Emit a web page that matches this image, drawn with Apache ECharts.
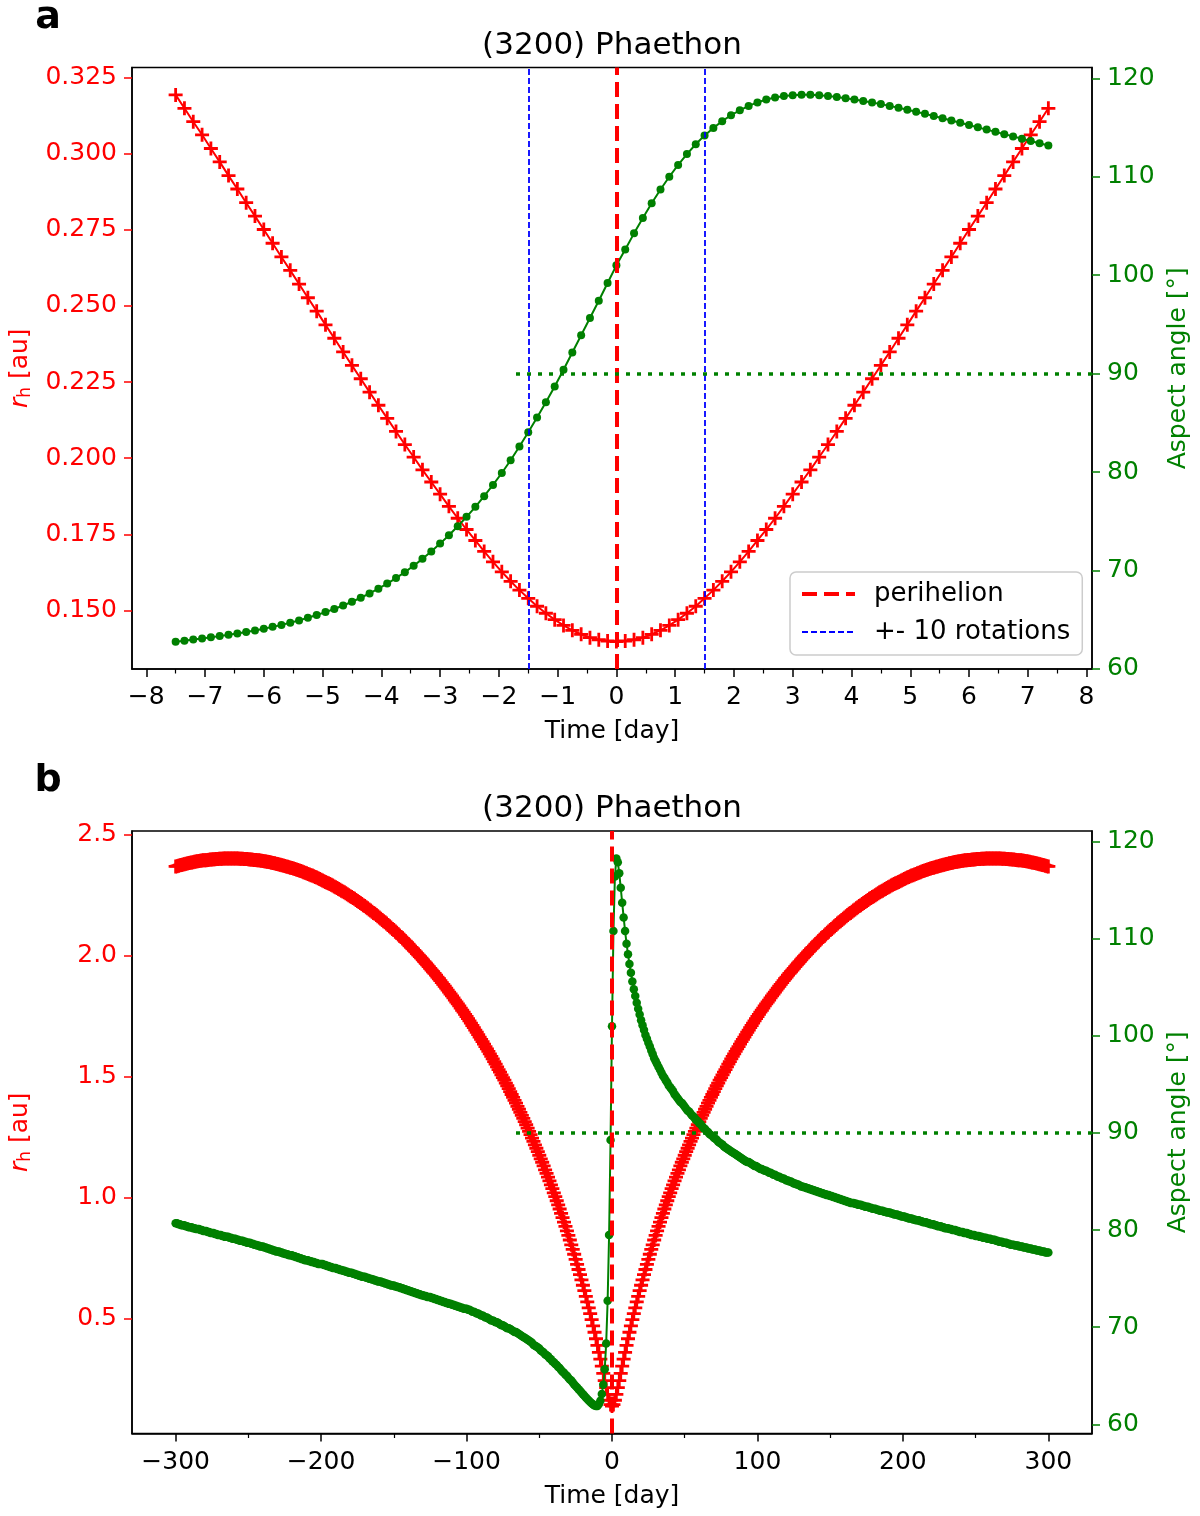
<!DOCTYPE html>
<html><head><meta charset="utf-8">
<script src="https://cdn.jsdelivr.net/npm/echarts@6/dist/echarts.min.js"></script>
<style>html,body{margin:0;padding:0;background:#fff}#c{width:1200px;height:1516px}</style>
</head><body><div id="c"></div>
<script>
// ---------- Panel a: +-7.5 days, one sample per rotation (0.15 day) ----------
const timeA = [-7.5,-7.35,-7.2,-7.05,-6.9,-6.75,-6.6,-6.45,-6.3,-6.15,-6,-5.85,-5.7,-5.55,-5.4,-5.25,-5.1,-4.95,-4.8,-4.65,-4.5,-4.35,-4.2,-4.05,-3.9,-3.75,-3.6,-3.45,-3.3,-3.15,-3,-2.85,-2.7,-2.55,-2.4,-2.25,-2.1,-1.95,-1.8,-1.65,-1.5,-1.35,-1.2,-1.05,-0.9,-0.75,-0.6,-0.45,-0.3,-0.15,0,0.15,0.3,0.45,0.6,0.75,0.9,1.05,1.2,1.35,1.5,1.65,1.8,1.95,2.1,2.25,2.4,2.55,2.7,2.85,3,3.15,3.3,3.45,3.6,3.75,3.9,4.05,4.2,4.35,4.5,4.65,4.8,4.95,5.1,5.25,5.4,5.55,5.7,5.85,6,6.15,6.3,6.45,6.6,6.75,6.9,7.05,7.2,7.35];
const rhA = [0.3193,0.3149,0.3105,0.3062,0.3017,0.2973,0.2928,0.2884,0.2839,0.2795,0.2751,0.2706,0.2661,0.2617,0.2572,0.2527,0.2483,0.2438,0.2394,0.2349,0.2305,0.2261,0.2217,0.2174,0.2131,0.2088,0.2045,0.2004,0.1962,0.1922,0.1882,0.1842,0.1803,0.1766,0.1730,0.1694,0.1660,0.1627,0.1596,0.1567,0.1540,0.1514,0.1491,0.1470,0.1451,0.1435,0.1422,0.1411,0.1404,0.1400,0.1398,
0.1400,0.1404,0.1411,0.1422,0.1435,0.1451,0.1470,0.1491,0.1514,0.1540,0.1567,0.1596,0.1627,0.1660,0.1694,0.1730,0.1766,0.1803,0.1842,0.1882,0.1922,0.1962,0.2004,0.2045,0.2088,0.2131,0.2174,0.2217,0.2261,0.2305,0.2349,0.2394,0.2438,0.2483,0.2527,0.2572,0.2617,0.2661,0.2706,0.2751,0.2795,0.2839,0.2884,0.2928,0.2973,0.3017,0.3062,0.3105,0.3149];
const aspectA = [62.77,62.87,62.98,63.09,63.21,63.33,63.46,63.6,63.75,63.91,
64.08,64.27,64.47,64.69,64.93,65.19,65.47,65.77,66.09,66.44,
66.82,67.23,67.67,68.15,68.67,69.23,69.83,70.48,71.18,71.93,
72.73,73.58,74.49,75.45,76.47,77.55,78.69,79.9,81.2,82.6,
84.05,85.55,87.1,88.7,90.4,92.15,93.9,95.65,97.4,99.2,
101.0,102.6,104.25,105.8,107.3,108.7,110.0,111.2,112.3,113.3,
114.2,114.95,115.65,116.25,116.75,117.2,117.55,117.85,118.05,118.2,
118.28,118.32,118.32,118.28,118.2,118.1,117.98,117.85,117.7,117.55,
117.38,117.2,117.01,116.81,116.6,116.39,116.17,115.95,115.72,115.49,
115.25,115.02,114.79,114.56,114.33,114.1,113.87,113.64,113.41,113.18];

// ---------- Panel b: one sample per day from DAY_START to DAY_END ----------
const DAY_START = -300, DAY_END = 300;
const rhB = [2.369,2.370,2.372,2.374,2.375,2.377,2.378,2.380,2.381,2.383,
2.384,2.385,2.386,2.388,2.389,2.390,2.391,2.392,2.393,2.394,
2.395,2.395,2.396,2.397,2.398,2.398,2.399,2.399,2.400,2.400,
2.401,2.401,2.401,2.402,2.402,2.402,2.402,2.402,2.402,2.402,
2.402,2.402,2.402,2.402,2.401,2.401,2.401,2.400,2.400,2.400,
2.399,2.398,2.398,2.397,2.396,2.396,2.395,2.394,2.393,2.392,
2.391,2.390,2.389,2.388,2.387,2.386,2.384,2.383,2.382,2.380,
2.379,2.377,2.376,2.374,2.373,2.371,2.369,2.368,2.366,2.364,
2.362,2.360,2.358,2.356,2.354,2.352,2.350,2.348,2.345,2.343,
2.341,2.338,2.336,2.333,2.331,2.328,2.325,2.323,2.320,2.317,
2.314,2.311,2.308,2.305,2.302,2.299,2.296,2.293,2.290,2.286,
2.283,2.280,2.276,2.273,2.269,2.265,2.262,2.258,2.254,2.250,
2.246,2.243,2.239,2.235,2.230,2.226,2.222,2.218,2.214,2.209,
2.205,2.200,2.196,2.191,2.187,2.182,2.177,2.173,2.168,2.163,
2.158,2.153,2.148,2.143,2.138,2.133,2.127,2.122,2.117,2.111,
2.106,2.100,2.095,2.089,2.083,2.077,2.072,2.066,2.060,2.054,
2.048,2.041,2.035,2.029,2.022,2.016,2.009,2.003,1.996,1.990,
1.983,1.976,1.969,1.962,1.955,1.948,1.941,1.934,1.927,1.920,
1.912,1.905,1.897,1.889,1.882,1.874,1.866,1.858,1.850,1.842,
1.834,1.826,1.817,1.809,1.801,1.793,1.784,1.775,1.767,1.758,
1.749,1.740,1.731,1.722,1.712,1.703,1.693,1.684,1.674,1.664,
1.655,1.645,1.635,1.625,1.615,1.605,1.595,1.584,1.574,1.563,
1.552,1.541,1.530,1.519,1.508,1.497,1.486,1.474,1.463,1.451,
1.439,1.427,1.415,1.403,1.391,1.378,1.366,1.353,1.341,1.328,
1.315,1.302,1.288,1.275,1.261,1.247,1.233,1.219,1.205,1.191,
1.176,1.161,1.147,1.132,1.116,1.101,1.086,1.070,1.054,1.038,
1.021,1.005,0.988,0.971,0.954,0.936,0.918,0.900,0.882,0.864,
0.845,0.826,0.806,0.787,0.767,0.746,0.725,0.704,0.683,0.661,
0.639,0.617,0.593,0.570,0.546,0.522,0.497,0.471,0.445,0.418,
0.391,0.362,0.334,0.305,0.275,0.245,0.216,0.188,0.164,0.146,
0.140,
0.146,0.164,0.188,0.216,0.245,0.275,0.305,0.334,0.362,0.391,
0.418,0.445,0.471,0.497,0.522,0.546,0.570,0.593,0.617,0.639,
0.661,0.683,0.704,0.725,0.746,0.767,0.787,0.806,0.826,0.845,
0.864,0.882,0.900,0.918,0.936,0.954,0.971,0.988,1.005,1.021,
1.038,1.054,1.070,1.086,1.101,1.116,1.132,1.147,1.161,1.176,
1.191,1.205,1.219,1.233,1.247,1.261,1.275,1.288,1.302,1.315,
1.328,1.341,1.353,1.366,1.378,1.391,1.403,1.415,1.427,1.439,
1.451,1.463,1.474,1.486,1.497,1.508,1.519,1.530,1.541,1.552,
1.563,1.574,1.584,1.595,1.605,1.615,1.625,1.635,1.645,1.655,
1.664,1.674,1.684,1.693,1.703,1.712,1.722,1.731,1.740,1.749,
1.758,1.767,1.775,1.784,1.793,1.801,1.809,1.817,1.826,1.834,
1.842,1.850,1.858,1.866,1.874,1.882,1.889,1.897,1.905,1.912,
1.920,1.927,1.934,1.941,1.948,1.955,1.962,1.969,1.976,1.983,
1.990,1.996,2.003,2.009,2.016,2.022,2.029,2.035,2.041,2.048,
2.054,2.060,2.066,2.072,2.077,2.083,2.089,2.095,2.100,2.106,
2.111,2.117,2.122,2.127,2.133,2.138,2.143,2.148,2.153,2.158,
2.163,2.168,2.173,2.177,2.182,2.187,2.191,2.196,2.200,2.205,
2.209,2.214,2.218,2.222,2.226,2.230,2.235,2.239,2.243,2.246,
2.250,2.254,2.258,2.262,2.265,2.269,2.273,2.276,2.280,2.283,
2.286,2.290,2.293,2.296,2.299,2.302,2.305,2.308,2.311,2.314,
2.317,2.320,2.323,2.325,2.328,2.331,2.333,2.336,2.338,2.341,
2.343,2.345,2.348,2.350,2.352,2.354,2.356,2.358,2.360,2.362,
2.364,2.366,2.368,2.369,2.371,2.373,2.374,2.376,2.377,2.379,
2.380,2.382,2.383,2.384,2.386,2.387,2.388,2.389,2.390,2.391,
2.392,2.393,2.394,2.395,2.396,2.396,2.397,2.398,2.398,2.399,
2.400,2.400,2.400,2.401,2.401,2.401,2.402,2.402,2.402,2.402,
2.402,2.402,2.402,2.402,2.402,2.402,2.402,2.401,2.401,2.401,
2.400,2.400,2.399,2.399,2.398,2.398,2.397,2.396,2.395,2.395,
2.394,2.393,2.392,2.391,2.390,2.389,2.388,2.386,2.385,2.384,
2.383,2.381,2.380,2.378,2.377,2.375,2.374,2.372,2.370,2.369];
const aspectB = [80.7,80.7,80.6,80.6,80.5,80.5,80.5,80.4,80.4,80.3,80.3,80.3,80.2,80.2,80.1,80.1,80.1,80.0,80.0,79.9,
79.9,79.9,79.8,79.8,79.7,79.7,79.7,79.6,79.6,79.5,79.5,79.5,79.4,79.4,79.3,79.3,79.3,79.2,79.2,79.1,
79.1,79.1,79.0,79.0,78.9,78.9,78.9,78.8,78.8,78.7,
78.7,78.7,78.6,78.6,78.5,78.5,78.4,78.4,78.3,78.3,78.3,78.2,78.2,78.1,78.1,78.0,78.0,77.9,77.9,77.8,
77.8,77.8,77.7,77.7,77.6,77.6,77.5,77.5,77.4,77.4,77.4,77.3,77.3,77.2,77.2,77.1,77.1,77.0,77.0,76.9,
76.9,76.9,76.8,76.8,76.7,76.7,76.6,76.6,76.5,76.5,
76.5,76.5,76.4,76.4,76.3,76.3,76.2,76.2,76.1,76.1,76.1,76.0,76.0,75.9,75.9,75.8,75.8,75.7,75.7,75.6,
75.6,75.6,75.5,75.5,75.4,75.4,75.3,75.3,75.2,75.2,75.2,75.1,75.1,75.0,75.0,74.9,74.9,74.8,74.8,74.7,
74.7,74.7,74.6,74.6,74.5,74.5,74.4,74.4,74.3,74.3,
74.3,74.2,74.2,74.1,74.1,74.0,74.0,73.9,73.9,73.8,73.8,73.7,73.7,73.6,73.6,73.5,73.5,73.4,73.4,73.3,
73.3,73.2,73.2,73.1,73.1,73.1,73.0,73.0,72.9,72.9,72.8,72.8,72.7,72.7,72.6,72.6,72.5,72.5,72.4,72.4,
72.3,72.3,72.2,72.2,72.1,72.1,72.0,72.0,71.9,71.9,
71.9,71.8,71.8,71.7,71.6,71.6,71.5,71.4,71.4,71.3,
71.2,71.2,71.1,71.0,71.0,70.9,70.8,70.7,70.7,70.6,
70.5,70.5,70.4,70.3,70.2,70.2,70.1,70.0,69.9,69.9,
69.8,69.7,69.6,69.5,69.5,69.4,69.3,69.2,69.1,69.0,
68.9,68.8,68.7,68.6,68.5,68.4,68.2,68.1,68.0,67.9,
67.8,67.6,67.5,67.4,67.2,67.1,67.0,66.8,66.7,66.5,
66.4,66.2,66.1,65.9,65.8,65.6,65.4,65.3,65.1,65.0,
64.8,64.6,64.5,64.3,64.1,63.95,63.78,63.61,63.45,63.28,
63.1,62.93,62.76,62.6,62.44,62.3,62.16,62.04,61.94,61.87,
61.88,62.08,62.42,
63.13,64.08,65.67,68.32,72.73,79.5,89.27,101.0,110.8,116.42,118.28,117.89,116.74,115.25,113.72,
112.2,110.8,109.5,108.4,107.4,106.5,105.6,
104.8,104.1,103.4,102.8,102.2,101.6,
101.1,100.6,100.1,99.7,99.3,98.9,98.5,98.1,97.7,97.4,
97.1,96.8,96.5,96.2,95.9,95.7,95.4,95.2,94.9,94.7,
94.5,94.3,94.0,93.8,93.6,93.4,93.2,93.1,92.9,92.7,
92.5,92.3,92.2,92.0,91.8,91.7,91.5,91.3,91.2,91.0,
90.9,90.7,90.5,90.4,90.2,90.1,89.9,89.8,89.7,89.5,
89.4,89.3,89.1,89.0,88.9,88.8,88.6,88.5,88.4,88.3,
88.2,88.1,88.0,87.9,87.8,87.7,87.6,87.5,87.4,87.3,
87.2,87.1,87.0,87.0,86.9,86.8,86.7,86.6,86.6,86.5,
86.4,86.3,86.3,86.2,86.1,86.1,86.0,85.9,85.9,85.8,
85.7,85.7,85.6,85.5,85.5,85.4,85.3,85.3,85.2,85.1,
85.1,85.0,85.0,84.9,84.8,84.8,84.7,84.7,84.6,84.5,
84.5,84.4,84.4,84.3,84.3,84.2,84.2,84.1,84.1,84.0,
84.0,83.9,83.9,83.8,83.8,83.7,83.7,83.6,83.6,83.5,
83.5,83.4,83.4,83.3,83.3,83.2,83.2,83.1,83.1,83.0,
83.0,82.9,82.9,82.8,82.8,82.8,82.7,82.7,82.6,82.6,
82.6,82.5,82.5,82.4,82.4,82.4,82.3,82.3,82.2,82.2,
82.2,82.1,82.1,82.0,82.0,82.0,81.9,81.9,81.8,81.8,
81.8,81.7,81.7,81.6,81.6,81.6,81.5,81.5,81.4,81.4,
81.4,81.3,81.3,81.2,81.2,81.2,81.1,81.1,81.0,81.0,
81.0,80.9,80.9,80.8,80.8,80.8,80.7,80.7,80.6,80.6,
80.6,80.5,80.5,80.4,80.4,80.4,80.3,80.3,80.2,80.2,
80.2,80.1,80.1,80.0,80.0,80.0,79.9,79.9,79.8,79.8,
79.8,79.7,79.7,79.7,79.6,79.6,79.5,79.5,79.5,79.4,
79.4,79.4,79.3,79.3,79.2,79.2,79.2,79.1,79.1,79.1,
79.0,79.0,79.0,78.9,78.9,78.8,78.8,78.8,78.7,78.7,
78.7,78.6,78.6,78.5,78.5,78.5,78.4,78.4,78.4,78.3,
78.3,78.3,78.2,78.2,78.2,78.1,78.1,78.1,78.0,78.0,
78.0,77.9,77.9,77.9,77.8,77.8,77.8,77.7,77.7,77.7];
// daily sampling grid for panel b
const timeB = [];
for (let d = DAY_START; d <= DAY_END; d++) timeB.push(d);

// ---------- ticks & reference lines ----------
const xTicksA = [-8,-7,-6,-5,-4,-3,-2,-1,0,1,2,3,4,5,6,7,8];
const xMinorA = [-7.5,-6.5,-5.5,-4.5,-3.5,-2.5,-1.5,-0.5,0.5,1.5,2.5,3.5,4.5,5.5,6.5,7.5];
const rhTicksA = [0.150,0.175,0.200,0.225,0.250,0.275,0.300,0.325];
const angleTicks = [60,70,80,90,100,110,120];
const xTicksB = [-300,-200,-100,0,100,200,300];
const xMinorB = [-250,-150,-50,50,150,250];
const rhTicksB = [0.5,1.0,1.5,2.0,2.5];
const perihelionT = 0;
const rotationT = [-1.5, 1.5];
const aspectRef = 90;

const FONT = 'DejaVu Sans';
const PLUS = 'path://M4.8,0H7.2V4.8H12V7.2H7.2V12H4.8V7.2H0V4.8H4.8Z';
const RED = '#ff0000', GREEN = '#008000', BLUE = '#0000ff';
const zip = (a, b) => a.map((v, i) => [v, b[i]]);
const minusFmt = v => (v < 0 ? '\u2212' : '') + Math.abs(v);

function xMain(gi, min, max, ticks) {
  return {type:'value', gridIndex:gi, min, max, position:'bottom',
    axisLine:{show:true, onZero:false, lineStyle:{color:'#000', width:1.5}},
    axisTick:{show:true, customValues:ticks, length:8, lineStyle:{color:'#000', width:1.5}},
    axisLabel:{show:true, customValues:ticks, formatter:minusFmt, fontSize:25, color:'#000', margin:16, fontFamily:FONT},
    splitLine:{show:false},
    name:'Time [day]', nameLocation:'middle', nameGap:50,
    nameTextStyle:{fontSize:25, color:'#000', fontFamily:FONT}};
}
function xMinor(gi, min, max, ticks) {
  return {type:'value', gridIndex:gi, min, max, position:'bottom',
    axisLine:{show:false, onZero:false},
    axisTick:{show:true, customValues:ticks, length:4.5, lineStyle:{color:'#000', width:1.2}},
    axisLabel:{show:false}, splitLine:{show:false}};
}
function yAx(gi, pos, min, max, ticks, color, fmt, name, gap, rich) {
  return {type:'value', gridIndex:gi, position:pos, min, max,
    axisLine:{show:true, onZero:false, lineStyle:{color:'#000', width:1.5}},
    axisTick:{show:true, customValues:ticks, length:8, lineStyle:{color, width:1.5}},
    axisLabel:{show:true, customValues:ticks, formatter:fmt, fontSize:25, color, margin:15, fontFamily:FONT},
    splitLine:{show:false},
    name, nameLocation:'middle', nameRotate:90, nameGap:gap,
    nameTextStyle:{fontSize:25, color, fontFamily:FONT, rich}};
}
const rhRich = {
  i:{fontStyle:'italic', fontSize:25, color:RED, fontFamily:FONT},
  s:{fontSize:17, color:RED, fontFamily:FONT, padding:[10,0,0,0]},
  n:{fontSize:25, color:RED, fontFamily:FONT}
};
const rhName = '{i|r}{s|h}{n| [au]}';
const f3 = v => v.toFixed(3), f1 = v => v.toFixed(1), f0 = v => String(v);

const vline = (vals, color, width, dash) => ({
  silent:true, symbol:['none','none'], label:{show:false}, animation:false,
  lineStyle:{color, width, type:dash, cap:'butt'}, emphasis:{disabled:true},
  data: vals.map(v => ({xAxis:v}))
});
const hline = (x0, x1, y) => ({
  silent:true, symbol:['none','none'], label:{show:false}, animation:false,
  lineStyle:{color:GREEN, width:3.5, type:[4,7], cap:'butt'}, emphasis:{disabled:true},
  data:[[{coord:[x0, y]}, {coord:[x1, y]}]]
});

const XA = [-8.2425, 8.0925], XB = [-330, 330];

const chart = echarts.init(document.getElementById('c'), null, {renderer:'canvas'});
chart.setOption({
  animation:false,
  backgroundColor:'#fff',
  textStyle:{fontFamily:FONT},
  grid:[
    {left:130, top:67.5, width:962, height:601.5, show:true, borderColor:'#000', borderWidth:1.5, backgroundColor:'transparent'},
    {left:130, top:831, width:962, height:602.5, show:true, borderColor:'#000', borderWidth:1.5, backgroundColor:'transparent'}
  ],
  xAxis:[
    xMain(0, XA[0], XA[1], xTicksA), xMinor(0, XA[0], XA[1], xMinorA),
    xMain(1, XB[0], XB[1], xTicksB), xMinor(1, XB[0], XB[1], xMinorB)
  ],
  yAxis:[
    yAx(0, 'left', 0.1308, 0.3283, rhTicksA, RED, f3, rhName, 98, rhRich),
    yAx(0, 'right', 59.99, 121.1, angleTicks, GREEN, f0, 'Aspect angle [°]', 74),
    yAx(1, 'left', 0.0267, 2.5153, rhTicksB, RED, f1, rhName, 98, rhRich),
    yAx(1, 'right', 59.05, 121.1, angleTicks, GREEN, f0, 'Aspect angle [°]', 74)
  ],
  legend:{
    data:[
      {name:'perihelion', lineStyle:{color:RED, width:4, type:[15,7], cap:'butt'}},
      {name:'+- 10 rotations', lineStyle:{color:BLUE, width:1.8, type:[6,3], cap:'butt'}}
    ],
    orient:'vertical', left:790, top:572,
    padding:[9,12,10,10], itemGap:12, itemWidth:53, itemHeight:14, selectedMode:false,
    textStyle:{fontSize:26, color:'#000', fontFamily:FONT, padding:[0,0,0,14]},
    itemStyle:{color:'rgba(0,0,0,0)', borderWidth:0},
    backgroundColor:'rgba(255,255,255,0.8)', borderColor:'#cccccc', borderWidth:1.5, borderRadius:6, z:20
  },
  graphic:[
    {type:'text', x:48, y:18, style:{text:'a', font:"bold 38px 'DejaVu Sans'", fill:'#000', align:'center', verticalAlign:'middle'}},
    {type:'text', x:48, y:781, style:{text:'b', font:"bold 38px 'DejaVu Sans'", fill:'#000', align:'center', verticalAlign:'middle'}},
    {type:'text', x:612, y:46, style:{text:'(3200) Phaethon', font:"31px 'DejaVu Sans'", fill:'#000', align:'center', verticalAlign:'middle'}},
    {type:'text', x:612, y:809, style:{text:'(3200) Phaethon', font:"31px 'DejaVu Sans'", fill:'#000', align:'center', verticalAlign:'middle'}}
  ],
  series:[
    {type:'line', name:'rh a', xAxisIndex:0, yAxisIndex:0, data:zip(timeA, rhA), z:2,
     symbol:PLUS, symbolSize:14, showSymbol:true, itemStyle:{color:RED}, lineStyle:{color:RED, width:2}},
    {type:'line', name:'perihelion', xAxisIndex:0, yAxisIndex:0, data:[], z:3, symbol:'none',
     lineStyle:{color:RED, width:4, type:[15,7]}, itemStyle:{color:RED},
     markLine:vline([perihelionT], RED, 4, [15,7])},
    {type:'line', name:'+- 10 rotations', xAxisIndex:0, yAxisIndex:0, data:[], z:3, symbol:'none',
     lineStyle:{color:BLUE, width:1.8, type:[6,3]}, itemStyle:{color:BLUE},
     markLine:vline(rotationT, BLUE, 1.8, [6,3])},
    {type:'line', name:'aspect a', xAxisIndex:0, yAxisIndex:1, data:zip(timeA, aspectA), z:4,
     symbol:'circle', symbolSize:8, showSymbol:true, itemStyle:{color:GREEN}, lineStyle:{color:GREEN, width:2},
     markLine:hline(XA[0] + 0.4*(XA[1]-XA[0]), XA[1], aspectRef)},
    {type:'line', name:'rh b', xAxisIndex:2, yAxisIndex:2, data:zip(timeB, rhB), z:2,
     symbol:PLUS, symbolSize:14, showSymbol:true, itemStyle:{color:RED}, lineStyle:{color:RED, width:2}},
    {type:'line', name:'perihelion b', xAxisIndex:2, yAxisIndex:2, data:[], z:3, symbol:'none',
     lineStyle:{color:RED, width:4, type:[15,7]},
     markLine:vline([perihelionT], RED, 4, [15,7])},
    {type:'line', name:'aspect b', xAxisIndex:2, yAxisIndex:3, data:zip(timeB, aspectB), z:4,
     symbol:'circle', symbolSize:8.5, showSymbol:true, itemStyle:{color:GREEN}, lineStyle:{color:GREEN, width:2},
     markLine:hline(XB[0] + 0.4*(XB[1]-XB[0]), XB[1], aspectRef)}
  ]
});
</script></body></html>
